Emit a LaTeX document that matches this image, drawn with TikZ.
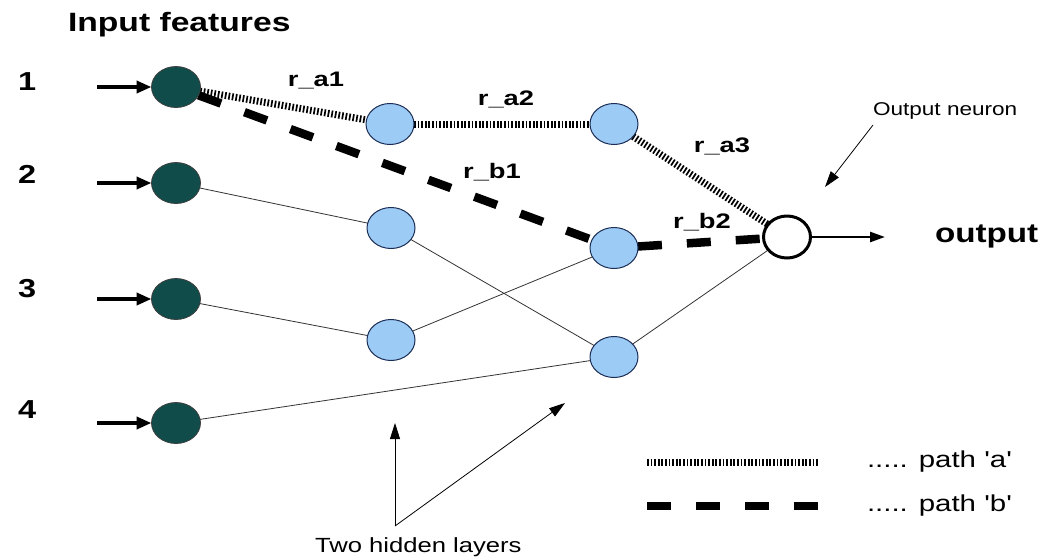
\documentclass[tikz,border=0pt]{standalone}
\usepackage{fontspec}
\setmainfont{Liberation Sans}
\usepackage{graphicx}
\usetikzlibrary{shapes.geometric,arrows.meta,backgrounds}
% horizontally widened text
\newcommand{\wide}[2][1.25]{\scalebox{#1}[1]{#2}}
\definecolor{inteal}{HTML}{0F4C4A}
\definecolor{hidblue}{HTML}{9CCBF6}
\definecolor{hidedge}{HTML}{1C2E55}

\begin{document}
\begin{tikzpicture}[x=1pt,y=-1pt,
  every node/.style={inner sep=0pt, outer sep=0pt},
  inneuron/.style={ellipse, minimum width=49pt, minimum height=41pt, fill=inteal, draw=black!75, line width=0.8pt},
  hidneuron/.style={ellipse, minimum width=48pt, minimum height=41pt, fill=hidblue, draw=hidedge, line width=1pt},
  outneuron/.style={ellipse, minimum width=47pt, minimum height=42pt, fill=white, draw=black, line width=3pt},
  link/.style={line width=0.8pt, draw=black!80},
  patha/.style={line width=7pt, dash pattern=on 1.7pt off 1.9pt},
  pathb/.style={line width=8.5pt, dash pattern=on 24pt off 25pt},
  feed/.style={line width=4pt, -{Triangle[length=15pt,width=12pt]}},
  outfeed/.style={line width=2.5pt, -{Triangle[length=15pt,width=10pt]}},
  pointer/.style={line width=0.8pt, -{Triangle[length=16pt,width=10pt]}},
  digit/.style={anchor=base west, font=\fontsize{26}{30}\selectfont\bfseries},
  wlabel/.style={anchor=base, font=\fontsize{21}{25}\selectfont\bfseries},
  note/.style={anchor=base west, font=\fontsize{20.5}{24}\selectfont},
  legendtext/.style={anchor=base west, font=\fontsize{23}{27}\selectfont}
]
\useasboundingbox (0,0) rectangle (1055,558);

% title
\node[anchor=base west, font=\fontsize{26.5}{30}\selectfont\bfseries] (title) at (68,31) {\wide[1.27]{Input features}};

% input numbers
\node[digit] (n1) at (18,90) {\wide{1}};
\node[digit] (n2) at (18,183) {\wide{2}};
\node[digit] (n3) at (18,297) {\wide{3}};
\node[digit] (n4) at (18,418) {\wide{4}};

% neurons
\node[inneuron] (i1) at (176,87) {};
\node[inneuron] (i2) at (176,183) {};
\node[inneuron] (i3) at (176,299) {};
\node[inneuron] (i4) at (176,423) {};
\node[hidneuron] (h1a) at (390,124) {};
\node[hidneuron] (h1b) at (391,228) {};
\node[hidneuron] (h1c) at (391,340) {};
\node[hidneuron] (h2a) at (614,124) {};
\node[hidneuron] (h2b) at (614,248) {};
\node[hidneuron] (h2c) at (614,357) {};
\node[outneuron] (o) at (787,237) {};

% input arrows
\coordinate (s1) at (97,87);
\coordinate (s2) at (97,183);
\coordinate (s3) at (97,299);
\coordinate (s4) at (97,423);
\draw[feed] (s1) -- (i1);
\draw[feed] (s2) -- (i2);
\draw[feed] (s3) -- (i3);
\draw[feed] (s4) -- (i4);

% output
\coordinate (oend) at (885,237);
\draw[outfeed] (o) -- (oend);
\node[anchor=base west, font=\fontsize{27}{31}\selectfont\bfseries] (outtxt) at (935,242) {\wide[1.23]{output}};

% weight labels
\node[wlabel] (ra1) at (316,86) {\wide[1.3]{r\_a1}};
\node[wlabel] (ra2) at (506,105) {\wide[1.3]{r\_a2}};
\node[wlabel] (ra3) at (722,152) {\wide[1.3]{r\_a3}};
\node[wlabel] (rb1) at (492,178) {\wide[1.3]{r\_b1}};
\node[wlabel] (rb2) at (702,228) {\wide[1.3]{r\_b2}};

% annotations
\node[anchor=base west, font=\fontsize{18.5}{22}\selectfont] (on) at (873,115) {\wide[1.22]{Output neuron}};
\coordinate (onp) at (873,125);
\coordinate (ont) at (825,187);
\draw[pointer] (onp) -- (ont);

\node[note] (hl) at (315,552) {\wide{Two hidden layers}};
\coordinate (hlp) at (395,526);
\coordinate (hlt1) at (395,423);
\coordinate (hlt2) at (565,403);
\draw[pointer] (hlp) -- (hlt1);
\draw[pointer] (hlp) -- (hlt2);

% legend
\coordinate (la1) at (647,462);
\coordinate (la2) at (818,462);
\coordinate (lb1) at (647,506);
\coordinate (lb2) at (818,506);
\draw[patha] (la1) -- (la2);
\draw[pathb] (lb1) -- (lb2);
\node[legendtext] (lta) at (867,467) {\wide[1.28]{..... path \textquotesingle a\textquotesingle}};
\node[legendtext] (ltb) at (867,511) {\wide[1.28]{..... path \textquotesingle b\textquotesingle}};

% connections behind the neurons
\begin{pgfonlayer}{background}
\fill[white] (0,0) rectangle (1055,558);
\draw[link] (i2) -- (h1b);
\draw[link] (i3) -- (h1c);
\draw[link] (i4) -- (h2c);
\draw[link] (h1b) -- (h2c);
\draw[link] (h1c) -- (h2b);
\draw[link] (h2c) -- (o);
\draw[patha] (i1) -- (h1a);
\draw[patha] (h1a) -- (h2a);
\draw[patha] (h2a) -- (o);
\draw[pathb] (i1) -- (h2b);
\draw[pathb] (h2b) -- (o);
\end{pgfonlayer}
\end{tikzpicture}
\end{document}
